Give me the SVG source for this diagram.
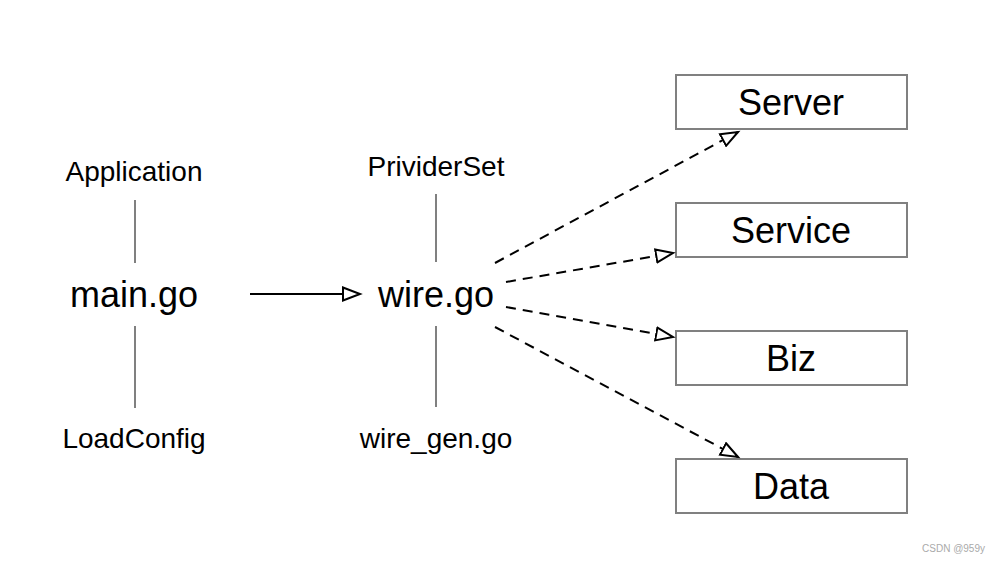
<svg xmlns="http://www.w3.org/2000/svg" width="998" height="562" viewBox="0 0 998 562">
<style>
.t{font-family:"Liberation Sans",Arial,sans-serif;fill:#000;text-anchor:middle}
.s{font-size:28px}
.b{font-size:36px}
.box{fill:#fff;stroke:#808080;stroke-width:2}
.v{stroke:#808080;stroke-width:2}
.c{stroke:#000;stroke-width:2;fill:none}
.d{stroke-dasharray:10 7}
</style>
<defs>
<marker id="ah" markerWidth="22" markerHeight="16" refX="18" refY="8" orient="auto" markerUnits="userSpaceOnUse">
<path d="M1,1.5 L18,8 L1,14.5 Z" fill="#fff" stroke="#000" stroke-width="2"/>
</marker>
</defs>
<rect width="998" height="562" fill="#fff"/>
<g id="application"><text class="t s" x="134" y="181">Application</text></g>
<g id="main"><text class="t b" x="134" y="307">main.go</text></g>
<g id="loadconfig"><text class="t s" x="134" y="448">LoadConfig</text></g>
<g id="providerset"><text class="t s" x="436" y="176">PrividerSet</text></g>
<g id="wire"><text class="t b" x="436" y="307">wire.go</text></g>
<g id="wiregen"><text class="t s" x="436" y="448">wire_gen.go</text></g>
<g id="server"><rect class="box" x="676" y="75" width="231" height="54"/><text class="t b" x="791" y="115">Server</text></g>
<g id="service"><rect class="box" x="676" y="203" width="231" height="54"/><text class="t b" x="791" y="243">Service</text></g>
<g id="biz"><rect class="box" x="676" y="331" width="231" height="54"/><text class="t b" x="791" y="371">Biz</text></g>
<g id="data"><rect class="box" x="676" y="459" width="231" height="54"/><text class="t b" x="791" y="499">Data</text></g>
<g id="connectors">
<line class="v" x1="135" y1="200" x2="135" y2="263"/>
<line class="v" x1="135" y1="326" x2="135" y2="408"/>
<line class="v" x1="436" y1="194" x2="436" y2="262"/>
<line class="v" x1="436" y1="326" x2="436" y2="407"/>
<line class="c" x1="250" y1="294" x2="360" y2="294" marker-end="url(#ah)"/>
<line class="c d" x1="495" y1="263" x2="738" y2="132" marker-end="url(#ah)"/>
<line class="c d" x1="506" y1="282" x2="673" y2="253" marker-end="url(#ah)"/>
<line class="c d" x1="506" y1="307" x2="673" y2="337" marker-end="url(#ah)"/>
<line class="c d" x1="495" y1="327" x2="738" y2="457" marker-end="url(#ah)"/>
</g>
<text x="985" y="552" font-family="Liberation Sans,Arial,sans-serif" font-size="10" fill="#aaa" text-anchor="end">CSDN @959y</text>
</svg>
